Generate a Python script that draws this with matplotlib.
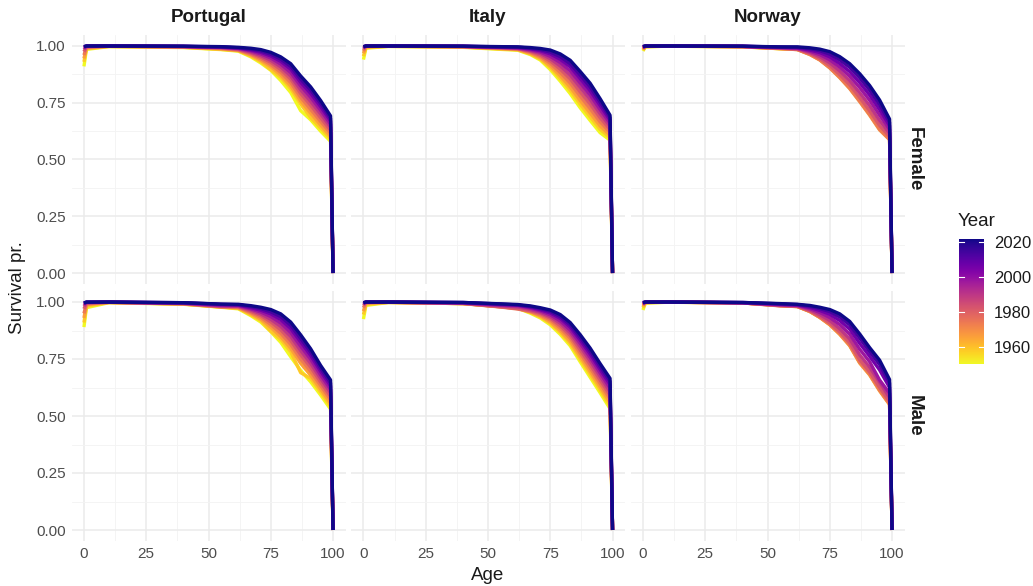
import numpy as np
import matplotlib
matplotlib.use("Agg")
import matplotlib.pyplot as plt
from matplotlib.colors import Normalize
from matplotlib.colorbar import ColorbarBase

plt.rcParams['font.family'] = ['Liberation Sans', 'DejaVu Sans']

# ---- data (survival probability by age) ----
countries = ["Portugal", "Italy", "Norway"]
sexes = ["Female", "Male"]
ages = [0, 1, 10, 40, 55, 62, 67, 71, 75, 79, 83, 87, 91, 95, 99, 100]
years = [1950, 1958, 1966, 1974, 1982, 1990, 1998, 2006, 2014, 2022]

pt_female = [
    [.910, .985, .997, .993, .984, .977, .952, .925, .893, .848, .795, .715, .675, .625, .580, 0],
    [.930, .988, .998, .994, .985, .979, .956, .931, .896, .862, .812, .744, .685, .639, .591, 0],
    [.945, .991, .998, .995, .987, .980, .960, .937, .909, .872, .824, .758, .704, .652, .602, 0],
    [.960, .994, .999, .996, .989, .982, .964, .944, .918, .884, .839, .774, .721, .668, .616, 0],
    [.975, .996, .999, .997, .991, .984, .969, .951, .928, .896, .854, .791, .739, .684, .629, 0],
    [.985, .998, .9993, .997, .993, .987, .973, .958, .937, .908, .868, .807, .756, .701, .643, 0],
    [.992, .999, .9996, .998, .994, .989, .978, .965, .947, .920, .883, .824, .774, .717, .656, 0],
    [.995, .9995, .9998, .998, .995, .991, .982, .972, .956, .932, .898, .840, .791, .733, .670, 0],
    [.997, .9997, .9999, .9985, .996, .992, .986, .978, .964, .942, .910, .854, .806, .747, .681, 0],
    [.997, .9998, .9999, .999, .997, .994, .990, .984, .972, .952, .922, .868, .820, .760, .692, 0],
]
it_female = [
    [.940, .990, .998, .994, .985, .981, .962, .938, .896, .845, .790, .728, .672, .618, .585, 0],
    [.955, .993, .998, .995, .987, .983, .965, .943, .905, .857, .805, .744, .688, .633, .596, 0],
    [.968, .996, .999, .996, .988, .984, .968, .948, .913, .869, .819, .760, .705, .648, .607, 0],
    [.978, .998, .999, .997, .990, .986, .972, .954, .924, .883, .837, .779, .724, .666, .620, 0],
    [.986, .999, .9993, .997, .991, .988, .976, .960, .934, .898, .855, .798, .744, .684, .633, 0],
    [.991, .9993, .9995, .998, .993, .989, .979, .967, .944, .912, .872, .818, .764, .702, .647, 0],
    [.994, .9995, .9997, .998, .994, .991, .983, .973, .954, .927, .890, .837, .784, .720, .660, 0],
    [.996, .9997, .9998, .9985, .995, .993, .987, .979, .965, .941, .908, .856, .803, .738, .673, 0],
    [.997, .9998, .9999, .999, .996, .995, .990, .984, .973, .953, .922, .872, .820, .753, .684, 0],
    [.997, .9998, .9999, .999, .997, .996, .993, .989, .982, .965, .937, .888, .836, .768, .695, 0],
]
no_female = [
    [.978, .996, .999, .996, .988, .985, .965, .943, .910, .869, .823, .767, .708, .643, .596, 0],
    [.982, .997, .999, .996, .988, .985, .964, .940, .907, .865, .818, .761, .702, .637, .592, 0],
    [.985, .998, .9993, .997, .988, .984, .962, .938, .903, .860, .812, .755, .695, .630, .587, 0],
    [.988, .998, .9995, .997, .989, .984, .963, .939, .904, .862, .814, .757, .698, .633, .589, 0],
    [.991, .999, .9996, .997, .990, .986, .967, .945, .914, .874, .829, .773, .715, .650, .601, 0],
    [.993, .9993, .9997, .998, .991, .988, .972, .953, .926, .890, .847, .794, .737, .672, .616, 0],
    [.995, .9995, .9998, .998, .993, .990, .977, .962, .939, .907, .867, .817, .761, .696, .633, 0],
    [.996, .9997, .9999, .9985, .994, .992, .982, .971, .952, .923, .887, .839, .784, .720, .649, 0],
    [.997, .9998, .9999, .999, .995, .994, .988, .979, .964, .939, .906, .860, .806, .742, .664, 0],
    [.998, .9998, .9999, .999, .996, .996, .992, .986, .975, .953, .922, .878, .826, .762, .678, 0],
]
pt_male = [
    [.890, .975, .997, .990, .977, .970, .940, .912, .870, .823, .760, .700, .650, .592, .530, 0],
    [.910, .982, .998, .991, .978, .972, .944, .919, .872, .836, .782, .690, .665, .605, .543, 0],
    [.930, .988, .998, .991, .978, .974, .949, .925, .889, .848, .797, .731, .679, .618, .556, 0],
    [.950, .992, .998, .992, .979, .976, .954, .933, .901, .863, .814, .750, .696, .634, .571, 0],
    [.970, .995, .999, .993, .980, .979, .959, .941, .913, .878, .831, .769, .714, .649, .586, 0],
    [.982, .997, .999, .994, .982, .981, .965, .948, .924, .893, .849, .787, .731, .665, .602, 0],
    [.990, .998, .9993, .995, .985, .984, .970, .956, .936, .908, .866, .806, .749, .680, .617, 0],
    [.994, .999, .9996, .996, .988, .986, .975, .964, .948, .923, .883, .825, .766, .696, .632, 0],
    [.996, .9995, .9997, .997, .990, .988, .980, .971, .957, .936, .898, .840, .781, .709, .645, 0],
    [.996, .9996, .9998, .997, .991, .990, .984, .977, .967, .948, .912, .856, .795, .722, .658, 0],
]
it_male = [
    [.925, .985, .998, .993, .981, .972, .951, .930, .900, .858, .808, .738, .670, .602, .532, 0],
    [.945, .990, .998, .993, .980, .973, .954, .935, .907, .867, .818, .750, .683, .615, .545, 0],
    [.960, .994, .998, .993, .979, .972, .957, .939, .913, .875, .828, .762, .696, .628, .559, 0],
    [.975, .997, .999, .993, .978, .969, .958, .944, .921, .886, .841, .776, .711, .643, .575, 0],
    [.985, .998, .999, .994, .979, .971, .962, .950, .929, .896, .853, .790, .726, .658, .591, 0],
    [.991, .999, .9993, .995, .983, .978, .967, .955, .936, .907, .865, .805, .742, .674, .606, 0],
    [.994, .9993, .9995, .996, .986, .983, .973, .961, .944, .917, .877, .819, .757, .689, .622, 0],
    [.996, .9996, .9997, .997, .989, .986, .977, .966, .952, .928, .890, .833, .772, .704, .638, 0],
    [.997, .9997, .9998, .998, .991, .987, .980, .971, .959, .936, .900, .845, .785, .717, .652, 0],
    [.997, .9998, .9999, .998, .992, .989, .983, .975, .965, .945, .910, .857, .798, .730, .665, 0],
]
no_male = [
    [.965, .995, .999, .996, .986, .981, .959, .934, .903, .862, .813, .738, .686, .617, .556, 0],
    [.975, .997, .999, .996, .985, .980, .959, .933, .901, .860, .810, .735, .682, .613, .552, 0],
    [.982, .998, .9993, .996, .984, .980, .958, .932, .900, .858, .808, .732, .680, .610, .550, 0],
    [.987, .998, .9995, .996, .983, .980, .959, .933, .902, .861, .811, .736, .684, .614, .553, 0],
    [.990, .999, .9996, .996, .984, .981, .961, .937, .908, .869, .821, .747, .694, .626, .563, 0],
    [.992, .9993, .9997, .996, .986, .983, .966, .945, .919, .883, .838, .768, .714, .648, .581, 0],
    [.995, .9995, .9998, .997, .988, .985, .971, .954, .932, .901, .859, .793, .738, .658, .600, 0],
    [.996, .9997, .9999, .997, .990, .987, .976, .963, .946, .919, .881, .819, .762, .702, .625, 0],
    [.997, .9998, .9999, .998, .992, .989, .981, .971, .958, .935, .900, .842, .783, .726, .645, 0],
    [.998, .9998, .9999, .998, .993, .990, .985, .977, .967, .948, .915, .860, .800, .745, .660, 0],
]

panels = {
    ("Portugal", "Female"): pt_female, ("Italy", "Female"): it_female, ("Norway", "Female"): no_female,
    ("Portugal", "Male"): pt_male, ("Italy", "Male"): it_male, ("Norway", "Male"): no_male,
}

# ---- figure ----
W, H = 1033, 586
fig = plt.figure(figsize=(W / 100, H / 100), dpi=100)
cmap = plt.get_cmap("plasma_r")
norm = Normalize(vmin=min(years), vmax=max(years))

col_x = [71.5, 351, 630.5]
row_y = [(34.6, 284.4), (290.6, 541.4)]
pw = 274
tick_col = "#4D4D4D"

for r, sex in enumerate(sexes):
    top, bot = row_y[r]
    for c, country in enumerate(countries):
        ax = fig.add_axes([col_x[c] / W, 1 - bot / H, pw / W, (bot - top) / H])
        data = panels[(country, sex)]
        for yr, vals in zip(years, data):
            ax.plot(ages, vals, color=cmap(norm(yr)), lw=2.4, solid_capstyle="butt",
                    solid_joinstyle="round")
        ax.set_xlim(-5, 105)
        ax.set_ylim(-0.05, 1.05)
        ax.set_xticks([0, 25, 50, 75, 100])
        ax.set_yticks([0, 0.25, 0.5, 0.75, 1.0])
        ax.set_xticks(np.arange(12.5, 100, 25), minor=True)
        ax.set_yticks(np.arange(0.125, 1, 0.25), minor=True)
        ax.grid(which="major", color="#EBEBEB", lw=1.1)
        ax.grid(which="minor", color="#F3F3F3", lw=0.6)
        ax.set_axisbelow(True)
        for s in ax.spines.values():
            s.set_visible(False)
        ax.tick_params(which="both", length=0, labelsize=11, labelcolor=tick_col, pad=4)
        ax.set_yticklabels(["0.00", "0.25", "0.50", "0.75", "1.00"])
        if c > 0:
            ax.tick_params(labelleft=False)
        if r == 0:
            ax.tick_params(labelbottom=False)
            ax.set_title(country, fontsize=13.5, fontweight="bold", color="#1A1A1A", pad=9)
        if c == 2:
            ax.text(1.035, 0.5, sex, transform=ax.transAxes, rotation=270,
                    fontsize=13.5, fontweight="bold", color="#1A1A1A",
                    ha="center", va="center")

fig.text(18 / W, 1 - 288 / H, "Survival pr.", rotation=90, fontsize=13.5,
         ha="center", va="center", color="#1A1A1A")
fig.text(488 / W, 1 - 576 / H, "Age", fontsize=13.5, ha="center", va="center",
         color="#1A1A1A")

# ---- colour bar legend ----
cax = fig.add_axes([959 / W, 1 - 364 / H, 25 / W, 125 / H])
cb = ColorbarBase(cax, cmap=cmap, norm=norm, orientation="vertical")
cb.outline.set_visible(False)
cb.set_ticks([1960, 1980, 2000, 2020])
cax.tick_params(length=0, labelsize=12, labelcolor="#1A1A1A", pad=7)
for t in [1960, 1980, 2000, 2020]:
    cax.plot([0, 0.2], [t, t], color="white", lw=0.8, transform=cax.get_yaxis_transform())
    cax.plot([0.8, 1], [t, t], color="white", lw=0.8, transform=cax.get_yaxis_transform())
fig.text(958 / W, 1 - 222 / H, "Year", fontsize=13.5, ha="left", va="center",
         color="#1A1A1A")

fig.savefig("out.png", dpi=100)
